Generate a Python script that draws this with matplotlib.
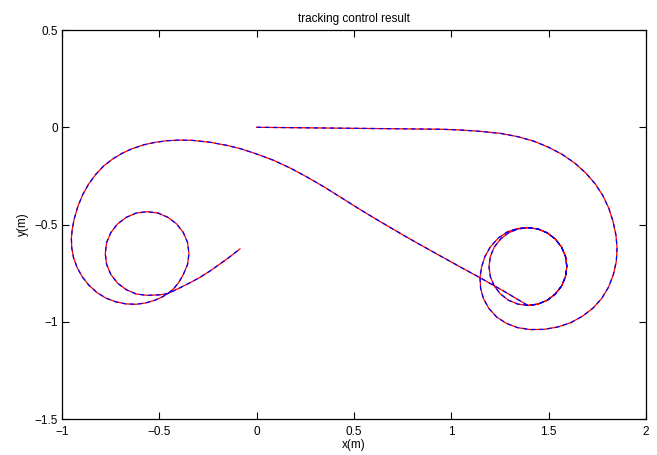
import matplotlib
matplotlib.use('Agg')
import matplotlib.pyplot as plt

plt.rcParams['font.family'] = ['Liberation Sans', 'DejaVu Sans']

# path, in metres
# straight run and the big loop on the right
x_right = [0.0, 0.3, 0.6, 0.85, 0.944, 1.05, 1.15, 1.25, 1.34, 1.425, 1.50, 1.57, 1.635,
           1.69, 1.738, 1.777, 1.808, 1.830, 1.845, 1.851, 1.847, 1.832, 1.807, 1.772,
           1.727, 1.672, 1.612, 1.545, 1.475, 1.405, 1.340, 1.282, 1.232, 1.193, 1.165,
           1.150, 1.147, 1.155, 1.172, 1.200, 1.240, 1.290, 1.343]
y_right = [0.0, -0.003, -0.006, -0.008, -0.010, -0.014, -0.021, -0.031, -0.048, -0.072,
           -0.103, -0.140, -0.185, -0.235, -0.290, -0.350, -0.415, -0.483, -0.553, -0.620,
           -0.690, -0.757, -0.822, -0.880, -0.930, -0.972, -1.005, -1.027, -1.039, -1.040,
           -1.030, -1.008, -0.975, -0.932, -0.882, -0.828, -0.772, -0.718, -0.665, -0.615,
           -0.570, -0.536, -0.520]

# small circle on the right (gone round twice)
x_ring = [1.393, 1.445, 1.493, 1.534, 1.566, 1.586, 1.593, 1.586, 1.566, 1.534, 1.493,
          1.445, 1.393, 1.341, 1.293, 1.252, 1.220, 1.200, 1.193, 1.200, 1.220, 1.252,
          1.293, 1.341, 1.393, 1.445, 1.493, 1.534, 1.566, 1.586, 1.593, 1.586, 1.566,
          1.534, 1.493, 1.445, 1.393]
y_ring = [-0.516, -0.523, -0.543, -0.575, -0.616, -0.664, -0.716, -0.768, -0.816, -0.857,
          -0.889, -0.909, -0.916, -0.909, -0.889, -0.857, -0.816, -0.768, -0.716, -0.664,
          -0.616, -0.575, -0.543, -0.523, -0.516, -0.523, -0.543, -0.575, -0.616, -0.664,
          -0.716, -0.768, -0.816, -0.857, -0.889, -0.909, -0.916]

# diagonal back and the big loop on the left
x_left = [1.27, 1.150, 1.047, 0.944, 0.858, 0.773, 0.687, 0.601, 0.515, 0.430, 0.345,
          0.259, 0.173, 0.087, 0.0185, -0.034, -0.084, -0.153, -0.24, -0.333, -0.40,
          -0.46, -0.52, -0.58, -0.64, -0.69, -0.74, -0.785, -0.825, -0.862, -0.893,
          -0.918, -0.937, -0.947, -0.952, -0.950, -0.941, -0.922, -0.895, -0.862, -0.820,
          -0.775, -0.725, -0.672, -0.620, -0.570, -0.522, -0.485, -0.455]
y_left = [-0.843, -0.775, -0.719, -0.662, -0.614, -0.566, -0.516, -0.465, -0.413, -0.359,
          -0.306, -0.256, -0.210, -0.170, -0.144, -0.126, -0.110, -0.093, -0.077, -0.067,
          -0.066, -0.069, -0.077, -0.090, -0.110, -0.133, -0.163, -0.198, -0.240, -0.290,
          -0.345, -0.405, -0.470, -0.520, -0.570, -0.620, -0.670, -0.722, -0.770, -0.812,
          -0.850, -0.878, -0.897, -0.908, -0.910, -0.903, -0.889, -0.872, -0.854]

# small circle on the left and the tail
x_end = [-0.425, -0.400, -0.377, -0.355, -0.348, -0.355, -0.377, -0.411, -0.456, -0.507,
         -0.563, -0.619, -0.670, -0.715, -0.749, -0.771, -0.778, -0.771, -0.749, -0.715,
         -0.670, -0.619, -0.563, -0.51, -0.48, -0.455, -0.40, -0.342, -0.292, -0.24,
         -0.189, -0.137, -0.086]
y_end = [-0.828, -0.797, -0.757, -0.705, -0.649, -0.593, -0.541, -0.497, -0.463, -0.441,
         -0.434, -0.441, -0.463, -0.497, -0.541, -0.593, -0.649, -0.705, -0.757, -0.801,
         -0.835, -0.857, -0.864, -0.862, -0.859, -0.854, -0.828, -0.799, -0.772, -0.739,
         -0.703, -0.665, -0.625]

x_path = x_right + x_ring + x_left + x_end
y_path = y_right + y_ring + y_left + y_end

x_ticks = [-1, -0.5, 0, 0.5, 1, 1.5, 2]
x_tick_labels = ['\u22121', '\u22120.5', '0', '0.5', '1', '1.5', '2']
y_ticks = [-1.5, -1, -0.5, 0, 0.5]
y_tick_labels = ['\u22121.5', '\u22121', '\u22120.5', '0', '0.5']

fig = plt.figure(figsize=(6.57, 4.55), dpi=100)
ax = fig.add_axes([0.0944, 0.079, 0.889, 0.855])

ax.plot(x_path, y_path, color='red', linewidth=0.9)
ax.plot(x_path, y_path, color='blue', linewidth=0.9, linestyle=(0, (3.5, 3)))

ax.set_xlim(-1, 2)
ax.set_ylim(-1.5, 0.5)
ax.set_xticks(x_ticks)
ax.set_xticklabels(x_tick_labels)
ax.set_yticks(y_ticks)
ax.set_yticklabels(y_tick_labels)
ax.tick_params(direction='in', length=5, width=0.8, labelsize=8.5,
               top=True, right=True)
ax.tick_params(axis='x', pad=5)
ax.tick_params(axis='y', pad=3)
for s in ax.spines.values():
    s.set_linewidth(0.9)

ax.set_title('tracking control result', fontsize=8.5, pad=6)
ax.set_xlabel('x(m)', fontsize=8.5, labelpad=1)
ax.set_ylabel('y(m)', fontsize=8.5, labelpad=4)

fig.savefig('out.png', dpi=100)
